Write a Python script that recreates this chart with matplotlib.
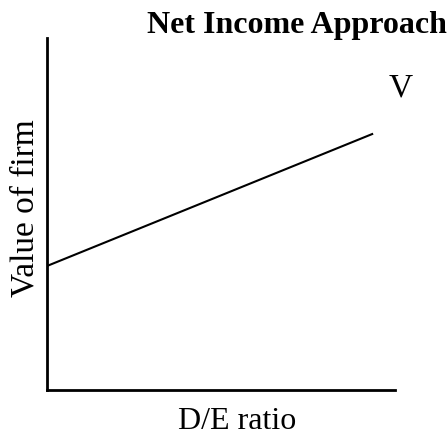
import matplotlib
matplotlib.use('agg')
import matplotlib.pyplot as plt

# D/E ratio (arbitrary units) and value of firm
de_ratio = [0.0, 9.34]
firm_value = [3.52, 7.27]

plt.rcParams['font.family'] = ['Liberation Serif', 'DejaVu Serif']

fig = plt.figure(figsize=(4.48, 4.37), dpi=100)
ax = fig.add_axes([0.105, 0.108, 0.777, 0.805])

ax.plot(de_ratio, firm_value, color='black', linewidth=1.5)
ax.set_xlim(0, 10)
ax.set_ylim(0, 10)

ax.spines['top'].set_visible(False)
ax.spines['right'].set_visible(False)
ax.spines['left'].set_linewidth(2)
ax.spines['bottom'].set_linewidth(2)
ax.set_xticks([])
ax.set_yticks([])

ax.set_xlabel('D/E ratio', fontsize=23)
ax.set_ylabel('Value of firm', fontsize=24)
ax.xaxis.set_label_coords(0.546, -0.05)
ax.yaxis.set_label_coords(-0.02, 0.516)

fig.text(0.998, 0.9245, 'Net Income Approach', fontsize=23, fontweight='bold',
         ha='right', va='baseline')
ax.text(10.17, 8.35, 'V', fontsize=24, ha='center', va='baseline', clip_on=False)

fig.savefig('out.png', dpi=100)
